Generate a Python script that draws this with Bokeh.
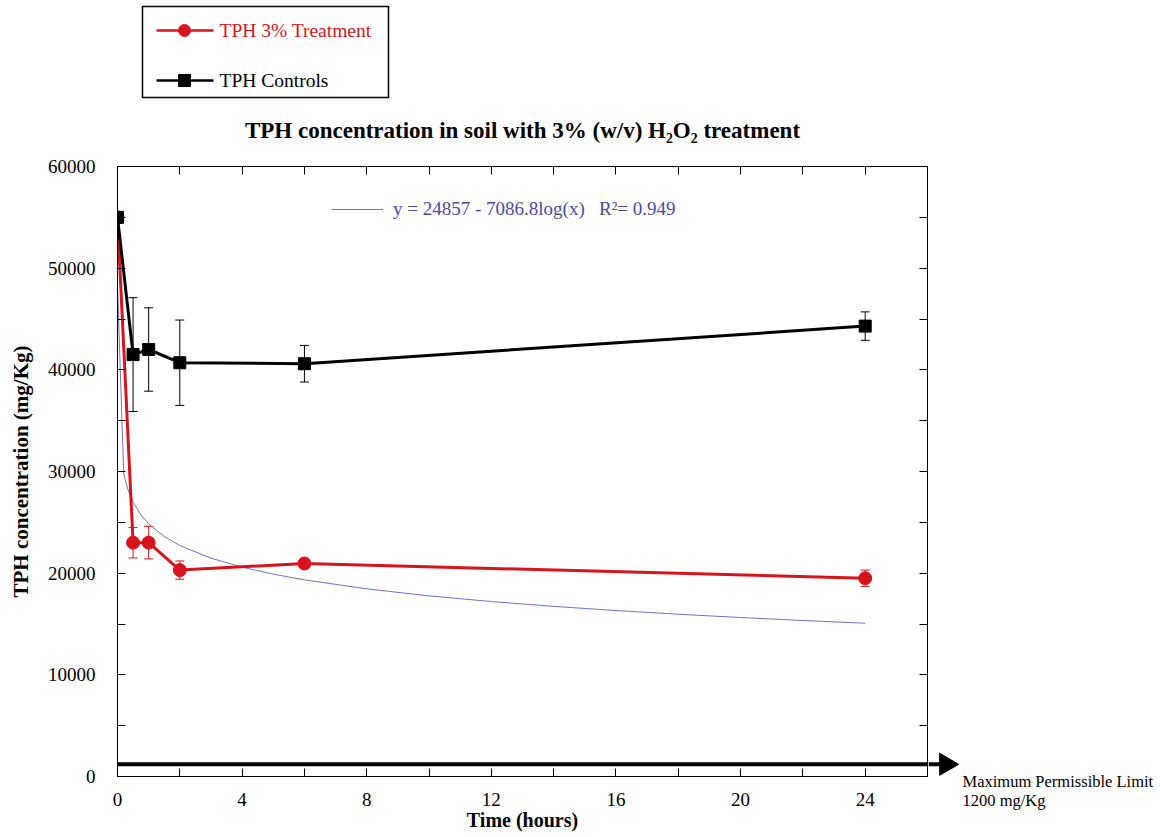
import math
from bokeh.plotting import figure
from bokeh.models import (Range1d, LinearAxis, FixedTicker, Whisker, TeeHead,
                          Label, Legend, LegendItem, ColumnDataSource)
from bokeh.layouts import column, row
from bokeh.embed import file_html
from bokeh.resources import INLINE
from bokeh.core.properties import value

# ---------------- data ----------------
hours = [0, 0.5, 1, 2, 6, 24]
treatment = [55000, 23000, 23000, 20300, 20950, 19500]
treatment_err = [0, 1500, 1600, 900, 300, 800]
controls = [55000, 41500, 42000, 40700, 40600, 44300]
controls_err = [0, 5600, 4100, 4200, 1800, 1400]

fit_a = 24857
fit_b = 7086.8
fit_r2 = 0.949
fit_hours = [0.0005, 0.2, 0.3, 0.4, 0.5, 0.75, 1, 1.5, 2, 3, 4, 5, 6, 8, 10, 12, 14, 16, 18, 20, 22, 24]

limit = 1200
limit_text = ["Maximum Permissible Limit", "1200 mg/Kg"]

x_major = [0, 4, 8, 12, 16, 20, 24]
x_minor = [2, 6, 10, 14, 18, 22, 26]
y_major = [0, 10000, 20000, 30000, 40000, 50000, 60000]
y_minor = [5000, 15000, 25000, 35000, 45000, 55000]

series_names = ["TPH 3% Treatment", "TPH Controls"]
title_text = "TPH concentration in soil with 3% (w/v) H\u2082O\u2082 treatment"

RED = "#d7141c"
BLACK = "#000000"
BLUE_LINE = "#7070d0"
BLUE_TEXT = "#4a4aa6"
FONT = "Liberation Serif"

FRAME_L, FRAME_R = 117, 927
MAIN_W = FRAME_R + 1
TOP_H = 150
MAIN_H = 837 - TOP_H
BORDER_T, BORDER_B = 16, 61

# ---------------- header strip: legend box + title ----------------
head = figure(width=MAIN_W, height=TOP_H, x_range=Range1d(FRAME_L, FRAME_R), y_range=Range1d(TOP_H, 0),
              output_backend="svg", toolbar_location=None,
              min_border_left=FRAME_L, min_border_right=MAIN_W - FRAME_R,
              min_border_top=0, min_border_bottom=0)
head.axis.visible = False
head.grid.visible = False
head.outline_line_color = None
head.background_fill_color = "white"
head.border_fill_color = "white"

head.quad(left=[142], right=[388], top=[6], bottom=[97], fill_color=None,
          line_color=BLACK, line_width=1.5)
head.segment(x0=[156], x1=[213], y0=[30], y1=[30], line_color=RED, line_width=2.5)
head.scatter(x=[184], y=[30], marker="circle", size=12, fill_color=RED, line_color=RED)
head.text(x=[219], y=[30], text=[series_names[0]], text_color=RED,
          text_font=value(FONT), text_font_size="19.5px", text_baseline="middle")
head.segment(x0=[156], x1=[213], y0=[80], y1=[80], line_color=BLACK, line_width=2.5)
head.scatter(x=[184], y=[80], marker="square", size=12, fill_color=BLACK, line_color=BLACK)
head.text(x=[219], y=[80], text=[series_names[1]], text_color=BLACK,
          text_font=value(FONT), text_font_size="19.5px", text_baseline="middle")

head.text(x=[(FRAME_L + FRAME_R) / 2], y=[130], text=[title_text], text_color=BLACK,
          text_font=value(FONT), text_font_size="23px", text_font_style="bold",
          text_align="center", text_baseline="middle")

# ---------------- main chart ----------------
p = figure(width=MAIN_W, height=MAIN_H, x_range=Range1d(0, 26), y_range=Range1d(0, 60000),
           output_backend="svg", toolbar_location=None,
           min_border_left=FRAME_L, min_border_right=MAIN_W - FRAME_R,
           min_border_top=BORDER_T, min_border_bottom=BORDER_B,
           x_axis_label="Time (hours)", y_axis_label="TPH concentration (mg/Kg)")
p.grid.visible = False
p.outline_line_color = BLACK
p.outline_line_width = 1
p.background_fill_color = "white"
p.border_fill_color = "white"


def style_axis(ax, ticker, show_labels):
    ax.ticker = ticker
    ax.major_tick_in = 8
    ax.major_tick_out = 0
    ax.minor_tick_in = 8
    ax.minor_tick_out = 0
    ax.major_tick_line_color = BLACK
    ax.minor_tick_line_color = BLACK
    ax.axis_line_color = BLACK
    ax.major_label_text_font = FONT
    ax.major_label_text_font_size = "19px"
    ax.major_label_text_color = BLACK
    if not show_labels:
        ax.major_label_overrides = {t: "" for t in ticker.ticks}
        ax.major_label_text_color = None
        ax.major_label_text_font_size = "1px"
        ax.major_label_standoff = 0


for ax in p.xaxis:
    style_axis(ax, FixedTicker(ticks=x_major, minor_ticks=x_minor), True)
    ax.major_label_standoff = 16
    ax.axis_label_standoff = 0
    ax.axis_label_text_font = FONT
    ax.axis_label_text_font_size = "20px"
    ax.axis_label_text_font_style = "bold"
    ax.axis_label_text_color = BLACK

for ax in p.yaxis:
    style_axis(ax, FixedTicker(ticks=y_major, minor_ticks=y_minor), True)
    ax.major_label_standoff = 22
    ax.axis_label_standoff = 12
    ax.axis_label_text_font = FONT
    ax.axis_label_text_font_size = "21px"
    ax.axis_label_text_font_style = "bold"
    ax.axis_label_text_color = BLACK

right_ax = LinearAxis()
style_axis(right_ax, FixedTicker(ticks=y_major, minor_ticks=y_minor), False)
top_ax = LinearAxis()
style_axis(top_ax, FixedTicker(ticks=x_major, minor_ticks=x_minor), False)
p.add_layout(right_ax, "right")
p.add_layout(top_ax, "above")

# permissible limit line (inside the frame)
p.segment(x0=[0], x1=[26], y0=[limit], y1=[limit], line_color=BLACK, line_width=4)

# fit curve
fit_vals = [fit_a - fit_b * math.log10(h) for h in fit_hours]
fit_r = p.line(fit_hours, fit_vals, line_color=BLUE_LINE, line_width=1)


# error bars
def err_source(ys, es):
    xs = [h for h, e in zip(hours, es) if e > 0]
    up = [y + e for y, e in zip(ys, es) if e > 0]
    lo = [y - e for y, e in zip(ys, es) if e > 0]
    return ColumnDataSource(dict(x=xs, upper=up, lower=lo))


p.add_layout(Whisker(source=err_source(controls, controls_err), base="x", upper="upper", lower="lower",
                     line_color=BLACK, line_width=1,
                     upper_head=TeeHead(size=9, line_color=BLACK, line_width=1),
                     lower_head=TeeHead(size=9, line_color=BLACK, line_width=1)))
p.add_layout(Whisker(source=err_source(treatment, treatment_err), base="x", upper="upper", lower="lower",
                     line_color=RED, line_width=1,
                     upper_head=TeeHead(size=9, line_color=RED, line_width=1),
                     lower_head=TeeHead(size=9, line_color=RED, line_width=1)))

# series
p.line(hours, treatment, line_color=RED, line_width=3)
p.scatter(hours, treatment, marker="circle", size=13, fill_color=RED, line_color=RED)
p.line(hours, controls, line_color=BLACK, line_width=3)
p.scatter(hours, controls, marker="square", size=12, fill_color=BLACK, line_color=BLACK)

# fit legend / equation
eq_text = f"y = {fit_a} - {fit_b}log(x)   R\u00b2= {fit_r2}"
fit_leg = Legend(items=[LegendItem(label=eq_text, renderers=[fit_r])],
                 location=(214, 556), border_line_color=None, background_fill_alpha=0,
                 glyph_width=52, label_standoff=10, padding=0, margin=0,
                 label_text_font=FONT, label_text_font_size="19px", label_text_color=BLUE_TEXT)
p.add_layout(fit_leg, "center")

# ---------------- side panel: arrow head + limit text ----------------
SIDE_W = 1160 - MAIN_W
side = figure(width=SIDE_W, height=MAIN_H, x_range=Range1d(MAIN_W, 1160), y_range=p.y_range,
              output_backend="svg", toolbar_location=None,
              min_border_left=0, min_border_right=0,
              min_border_top=BORDER_T, min_border_bottom=BORDER_B)
side.axis.visible = False
side.grid.visible = False
side.outline_line_color = None
side.background_fill_color = "white"
side.border_fill_color = "white"

side.segment(x0=[MAIN_W], x1=[941], y0=[limit], y1=[limit], line_color=BLACK, line_width=4)
side.scatter(x=[945.5], y=[limit], marker="triangle", size=22, angle=-math.pi / 2,
             fill_color=BLACK, line_color=BLACK)
side.add_layout(Label(x=962, y=-500, text=limit_text[0], text_font=FONT, text_font_size="16.5px",
                      text_color=BLACK, text_baseline="middle"), "below")
side.add_layout(Label(x=962, y=-2350, text=limit_text[1], text_font=FONT, text_font_size="16.5px",
                      text_color=BLACK, text_baseline="middle"), "below")

layout = column(head, row(p, side, spacing=0), spacing=0)
open("out.html", "w").write(file_html(layout, INLINE))
